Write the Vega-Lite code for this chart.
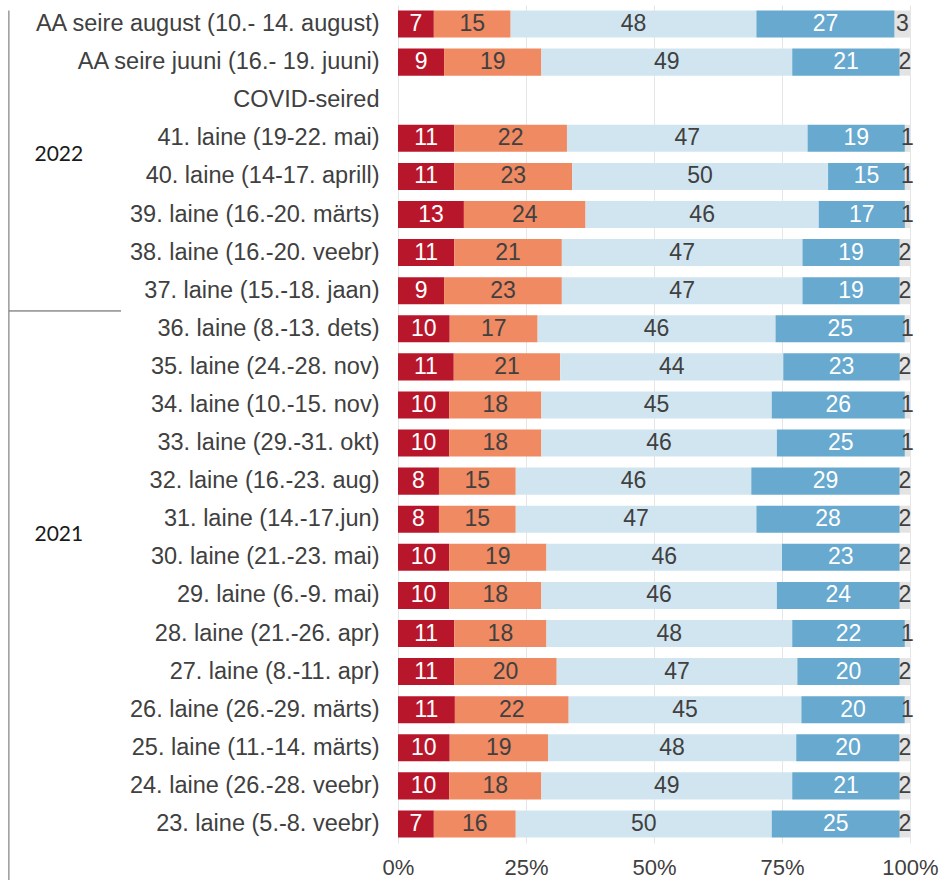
{
  "$schema": "https://vega.github.io/schema/vega-lite/v6.json",
  "width": 512,
  "height": 838,
  "padding": {"left": 8, "top": 5, "right": 0, "bottom": 0},
  "background": "white",
  "config": {"view": {"stroke": null}, "font": "Liberation Sans"},
  "datasets": {
    "rows": [
      {"label": "AA seire august (10.- 14. august)", "v1": 7, "v2": 15, "v3": 48, "v4": 27, "v5": 3},
      {"label": "AA seire juuni (16.- 19. juuni)", "v1": 9, "v2": 19, "v3": 49, "v4": 21, "v5": 2},
      {"label": "41. laine (19-22. mai)", "v1": 11, "v2": 22, "v3": 47, "v4": 19, "v5": 1},
      {"label": "40. laine (14-17. aprill)", "v1": 11, "v2": 23, "v3": 50, "v4": 15, "v5": 1},
      {"label": "39. laine (16.-20. märts)", "v1": 13, "v2": 24, "v3": 46, "v4": 17, "v5": 1},
      {"label": "38. laine (16.-20. veebr)", "v1": 11, "v2": 21, "v3": 47, "v4": 19, "v5": 2},
      {"label": "37. laine (15.-18. jaan)", "v1": 9, "v2": 23, "v3": 47, "v4": 19, "v5": 2},
      {"label": "36. laine (8.-13. dets)", "v1": 10, "v2": 17, "v3": 46, "v4": 25, "v5": 1},
      {"label": "35. laine (24.-28. nov)", "v1": 11, "v2": 21, "v3": 44, "v4": 23, "v5": 2},
      {"label": "34. laine (10.-15. nov)", "v1": 10, "v2": 18, "v3": 45, "v4": 26, "v5": 1},
      {"label": "33. laine (29.-31. okt)", "v1": 10, "v2": 18, "v3": 46, "v4": 25, "v5": 1},
      {"label": "32. laine (16.-23. aug)", "v1": 8, "v2": 15, "v3": 46, "v4": 29, "v5": 2},
      {"label": "31. laine (14.-17.jun)", "v1": 8, "v2": 15, "v3": 47, "v4": 28, "v5": 2},
      {"label": "30. laine (21.-23. mai)", "v1": 10, "v2": 19, "v3": 46, "v4": 23, "v5": 2},
      {"label": "29. laine (6.-9. mai)", "v1": 10, "v2": 18, "v3": 46, "v4": 24, "v5": 2},
      {"label": "28. laine (21.-26. apr)", "v1": 11, "v2": 18, "v3": 48, "v4": 22, "v5": 1},
      {"label": "27. laine (8.-11. apr)", "v1": 11, "v2": 20, "v3": 47, "v4": 20, "v5": 2},
      {"label": "26. laine (26.-29. märts)", "v1": 11, "v2": 22, "v3": 45, "v4": 20, "v5": 1},
      {"label": "25. laine (11.-14. märts)", "v1": 10, "v2": 19, "v3": 48, "v4": 20, "v5": 2},
      {"label": "24. laine (26.-28. veebr)", "v1": 10, "v2": 18, "v3": 49, "v4": 21, "v5": 2},
      {"label": "23. laine (5.-8. veebr)", "v1": 7, "v2": 16, "v3": 50, "v4": 25, "v5": 2}
    ],
    "years": [
      {"year": "2022", "row": "41. laine (19-22. mai)"},
      {"year": "2021", "row": "31. laine (14.-17.jun)"}
    ],
    "sep": [
      {"row": "37. laine (15.-18. jaan)"}
    ]
  },
  "layer": [
    {
      "data": {"name": "rows"},
      "transform": [
        {"fold": ["v1", "v2", "v3", "v4", "v5"], "as": ["cat", "share"]},
        {"stack": "share", "groupby": ["label"], "sort": [{"field": "cat", "order": "ascending"}], "as": ["s0", "s1"], "offset": "normalize"}
      ],
      "mark": {"type": "bar"},
      "encoding": {
        "y": {
          "field": "label",
          "type": "nominal",
          "sort": null,
          "scale": {
            "domain": [
              "AA seire august (10.- 14. august)",
              "AA seire juuni (16.- 19. juuni)",
              "COVID-seired",
              "41. laine (19-22. mai)",
              "40. laine (14-17. aprill)",
              "39. laine (16.-20. märts)",
              "38. laine (16.-20. veebr)",
              "37. laine (15.-18. jaan)",
              "36. laine (8.-13. dets)",
              "35. laine (24.-28. nov)",
              "34. laine (10.-15. nov)",
              "33. laine (29.-31. okt)",
              "32. laine (16.-23. aug)",
              "31. laine (14.-17.jun)",
              "30. laine (21.-23. mai)",
              "29. laine (6.-9. mai)",
              "28. laine (21.-26. apr)",
              "27. laine (8.-11. apr)",
              "26. laine (26.-29. märts)",
              "25. laine (11.-14. märts)",
              "24. laine (26.-28. veebr)",
              "23. laine (5.-8. veebr)"
            ],
            "paddingInner": 0.29,
            "paddingOuter": 0.145
          },
          "axis": {
            "title": null,
            "domain": false,
            "ticks": false,
            "tickSize": 0,
            "labelPadding": 19,
            "labelFontSize": 23.5,
            "labelColor": "#404040",
            "labelFont": "Liberation Sans",
            "labelLimit": 420
          }
        },
        "x": {
          "field": "s0",
          "type": "quantitative",
          "scale": {"domain": [0, 1], "nice": false},
          "axis": {
            "title": null,
            "format": "%",
            "values": [0, 0.25, 0.5, 0.75, 1],
            "grid": true,
            "gridColor": "#e6e6e6",
            "domain": false,
            "ticks": false,
            "tickSize": 0,
            "labelFlush": false,
            "labelPadding": 14,
            "labelFontSize": 22,
            "labelColor": "#404040",
            "labelFont": "Liberation Sans"
          }
        },
        "x2": {"field": "s1"},
        "color": {
          "field": "cat",
          "type": "nominal",
          "scale": {
            "domain": ["v1", "v2", "v3", "v4", "v5"],
            "range": ["#b8172b", "#ef8a62", "#d1e5f0", "#67a9cf", "#e3e3e3"]
          },
          "legend": null
        }
      }
    },
    {
      "data": {"name": "rows"},
      "transform": [
        {"fold": ["v1", "v2", "v3", "v4", "v5"], "as": ["cat", "share"]},
        {"stack": "share", "groupby": ["label"], "sort": [{"field": "cat", "order": "ascending"}], "as": ["s0", "s1"], "offset": "normalize"},
        {"calculate": "(datum.s0 + datum.s1) / 2", "as": "mid"}
      ],
      "mark": {"type": "text", "fontSize": 23, "font": "Liberation Sans", "baseline": "middle", "align": "center"},
      "encoding": {
        "y": {"field": "label", "type": "nominal", "sort": null},
        "x": {"field": "mid", "type": "quantitative"},
        "text": {"field": "share", "type": "quantitative"},
        "color": {
          "condition": {"test": "datum.cat === 'v1' || datum.cat === 'v4'", "value": "#ffffff"},
          "value": "#404040"
        }
      }
    },
    {
      "data": {"name": "years"},
      "mark": {"type": "text", "font": "Lato", "fontSize": 21, "color": "#1a1a1a", "align": "left", "baseline": "middle"},
      "encoding": {
        "y": {"field": "row", "type": "nominal", "sort": null, "bandPosition": 1.1},
        "x": {"datum": -0.71, "type": "quantitative"},
        "text": {"field": "year"}
      }
    },
    {
      "data": {"name": "sep"},
      "mark": {"type": "rule", "color": "#555555", "strokeWidth": 1},
      "encoding": {
        "y": {"field": "row", "type": "nominal", "sort": null, "bandPosition": 1.25},
        "x": {"datum": -0.76, "type": "quantitative"},
        "x2": {"datum": -0.541}
      }
    },
    {
      "data": {"values": [{}]},
      "mark": {"type": "rule", "color": "#808080", "strokeWidth": 1.2, "y2Offset": 56},
      "encoding": {
        "x": {"datum": -0.76, "type": "quantitative"},
        "y": {"datum": "AA seire august (10.- 14. august)", "type": "nominal", "bandPosition": 0},
        "y2": {"datum": "23. laine (5.-8. veebr)"}
      }
    }
  ]
}
